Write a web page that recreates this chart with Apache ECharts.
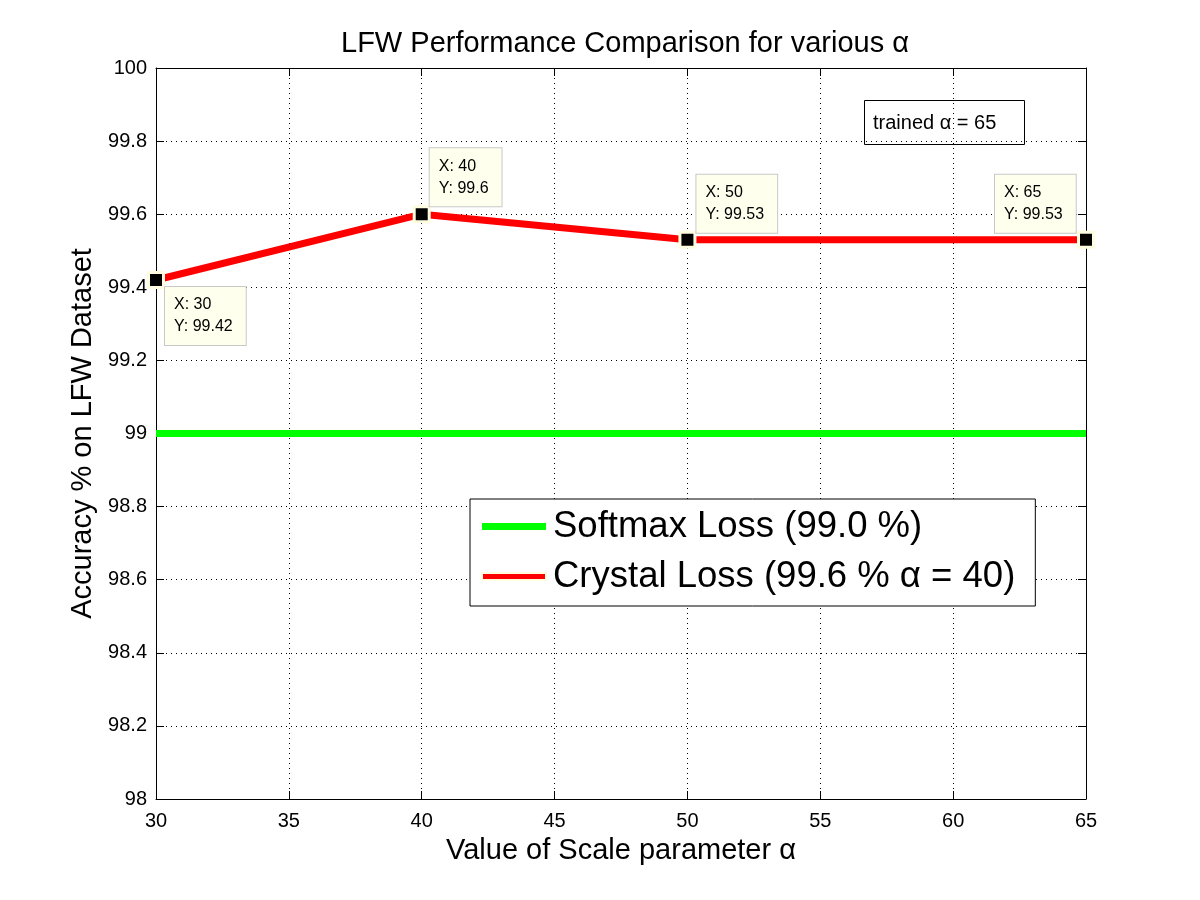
<!DOCTYPE html>
<html>
<head>
<meta charset="utf-8">
<script src="https://cdn.jsdelivr.net/npm/echarts@6/dist/echarts.min.js"></script>
<style>
  html, body { margin: 0; padding: 0; background: #fff; }
  #chart { width: 1200px; height: 900px; }
</style>
</head>
<body>
<div id="chart"></div>
<script>
// 数据
var alphaVals = [30, 40, 50, 65];
var crystalAcc = [99.42, 99.6, 99.53, 99.53];
var softmaxX = [30, 65];
var softmaxAcc = [99.0, 99.0];
var seriesNames = ['Softmax Loss (99.0 %)', 'Crystal Loss (99.6 % α = 40)'];
// 数据提示框的位置 (相对于点)
var tipPos = [[18, 16], [17, -57], [18, -56], [-82, -56]];

var font = 'Liberation Sans, Arial, sans-serif';
var myChart = echarts.init(document.getElementById('chart'));

var crystalData = [];
for (var i = 0; i < alphaVals.length; i++) {
    crystalData.push({
        value: [alphaVals[i], crystalAcc[i]],
        label: {
            show: true,
            position: tipPos[i],
            formatter: 'X: ' + alphaVals[i] + '\nY: ' + crystalAcc[i],
            align: 'left',
            verticalAlign: 'top',
            color: '#000',
            fontFamily: font,
            fontSize: 16,
            lineHeight: 22,
            backgroundColor: '#ffffee',
            borderColor: '#c8c8c8',
            borderWidth: 1,
            padding: [7, 13, 7, 9]
        }
    });
}
var softData = [];
for (var j = 0; j < softmaxX.length; j++) {
    softData.push([softmaxX[j], softmaxAcc[j]]);
}

var tickOpts = { show: true, inside: true, length: 8, lineStyle: { color: '#000' } };

option = {
    animation: false,
    backgroundColor: '#fff',
    title: [{
        text: 'LFW Performance Comparison for various α',
        left: 620,
        textAlign: 'center',
        top: 24,
        textStyle: { fontFamily: font, fontSize: 29, fontWeight: 'normal', color: '#000' }
    }, {
        text: 'trained α = 65',
        left: 864,
        top: 100,
        borderColor: '#000',
        borderWidth: 1,
        padding: [13, 28, 12, 9],
        textStyle: { fontFamily: font, fontSize: 20, fontWeight: 'normal', color: '#000' }
    }],
    grid: { left: 156, top: 68, width: 930, height: 731, containLabel: false },
    legend: {
        orient: 'vertical',
        left: 470,
        top: 499,
        padding: [9, 20, 11, 11],
        itemGap: 13,
        itemWidth: 64,
        itemHeight: 7,
        borderColor: '#000',
        borderWidth: 1,
        backgroundColor: '#fff',
        icon: 'rect',
        textStyle: { fontFamily: font, fontSize: 36.5, color: '#000', padding: [0, 0, 0, 2] },
        data: [
            { name: seriesNames[0], itemStyle: { color: '#00ff00' } },
            { name: seriesNames[1], itemStyle: { color: '#ff0000' } }
        ]
    },
    xAxis: [{
        type: 'value',
        min: 30, max: 65, interval: 5,
        name: 'Value of Scale parameter α',
        nameLocation: 'middle',
        nameGap: 37,
        nameTextStyle: { fontFamily: font, fontSize: 29, color: '#000' },
        axisLine: { onZero: false, lineStyle: { color: '#000' } },
        axisTick: tickOpts,
        axisLabel: { fontFamily: font, fontSize: 20, color: '#000', margin: 12 },
        splitLine: { show: true, lineStyle: { color: '#000', type: [1, 4], width: 1 } }
    }, {
        type: 'value', position: 'top',
        min: 30, max: 65, interval: 5,
        axisLine: { onZero: false, lineStyle: { color: '#000' } },
        axisTick: tickOpts,
        axisLabel: { show: false },
        splitLine: { show: false }
    }],
    yAxis: [{
        type: 'value',
        min: 98, max: 100, interval: 0.2,
        name: 'Accuracy % on LFW Dataset',
        nameLocation: 'middle',
        nameGap: 57,
        nameTextStyle: { fontFamily: font, fontSize: 29, color: '#000' },
        axisLine: { show: true, onZero: false, lineStyle: { color: '#000' } },
        axisTick: tickOpts,
        axisLabel: {
            fontFamily: font, fontSize: 20, color: '#000', margin: 9,
            formatter: function (v) { return String(parseFloat(v.toFixed(1))); }
        },
        splitLine: { show: true, lineStyle: { color: '#000', type: [1, 4], width: 1 } }
    }, {
        type: 'value', position: 'right',
        min: 98, max: 100, interval: 0.2,
        axisLine: { show: true, onZero: false, lineStyle: { color: '#000' } },
        axisTick: tickOpts,
        axisLabel: { show: false },
        splitLine: { show: false }
    }],
    series: [{
        name: seriesNames[0],
        type: 'line',
        showSymbol: false,
        symbol: 'none',
        lineStyle: { color: '#00ff00', width: 7 },
        itemStyle: { color: '#00ff00' },
        data: softData
    }, {
        name: seriesNames[1],
        type: 'line',
        symbol: 'rect',
        symbolSize: 15,
        lineStyle: { color: '#ff0000', width: 7 },
        itemStyle: { color: '#000', borderColor: '#fffde0', borderWidth: 3 },
        clip: false,
        z: 3,
        data: crystalData
    }]
};

myChart.setOption(option);
</script>
</body>
</html>
